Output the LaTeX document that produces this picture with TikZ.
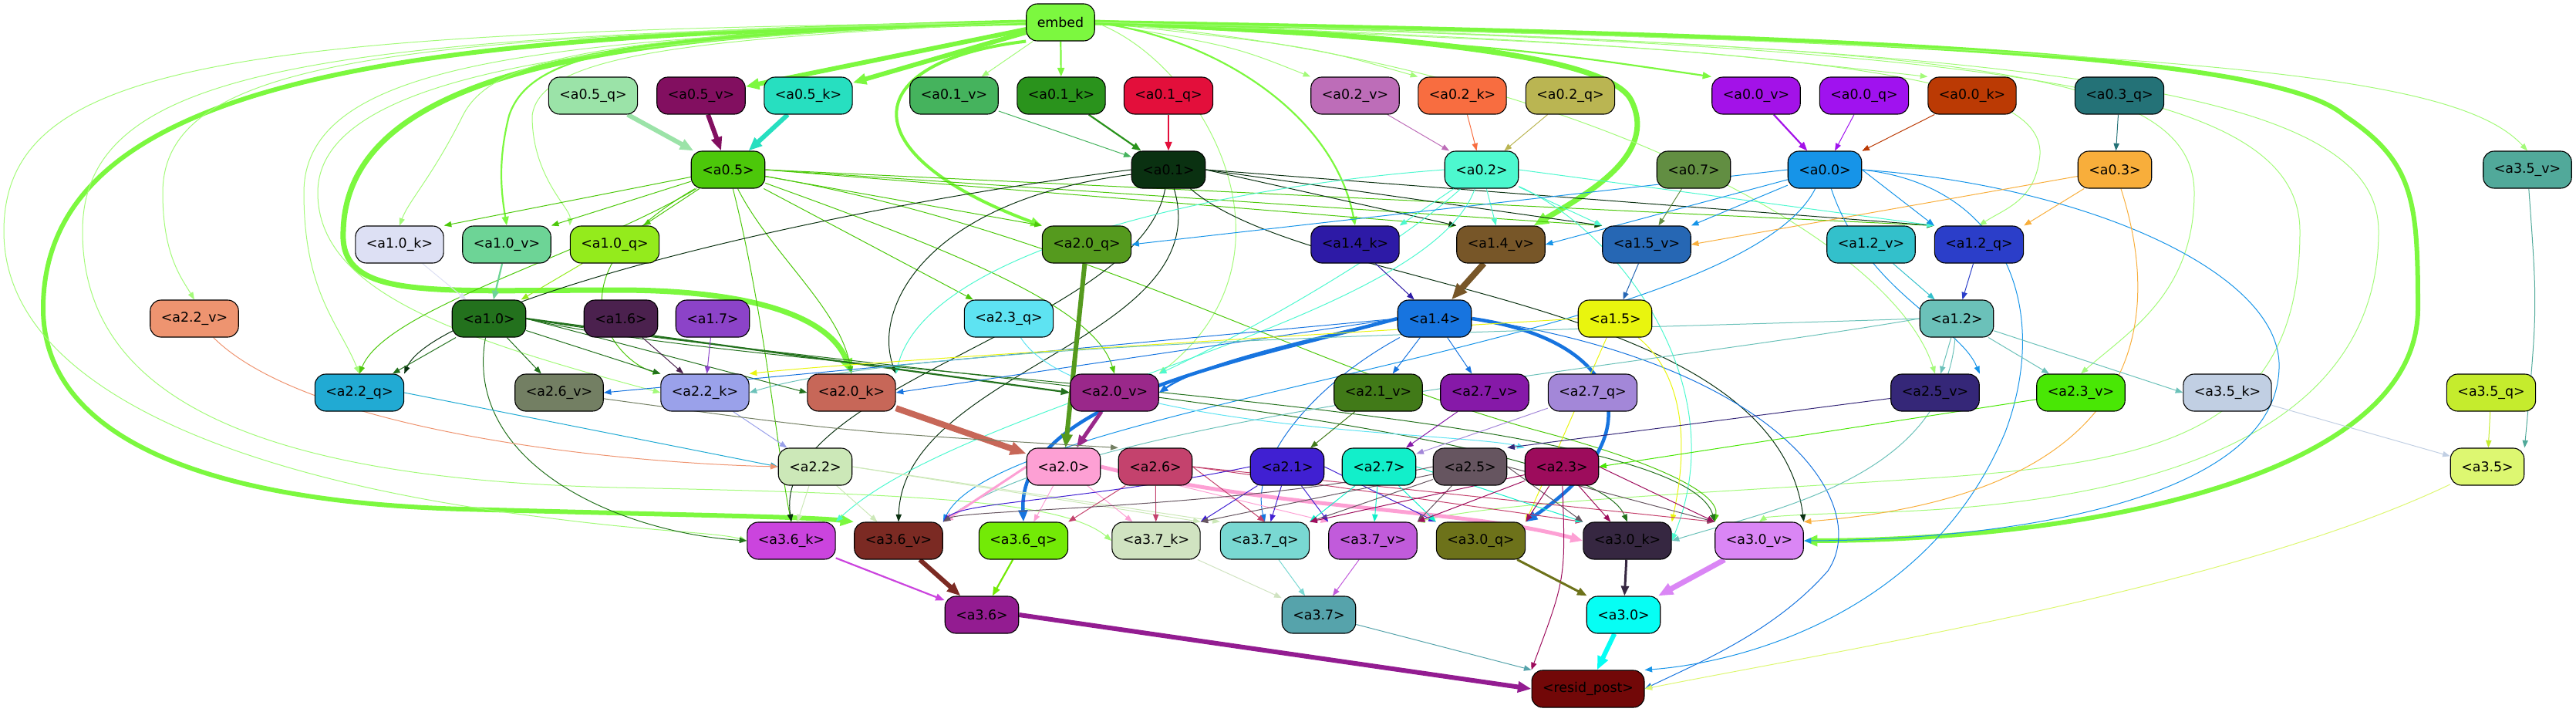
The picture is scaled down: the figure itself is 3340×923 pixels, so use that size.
\documentclass[tikz,border=0pt]{standalone}
\usepackage{fontspec}
\setmainfont{DejaVu Sans}
\usetikzlibrary{arrows.meta,backgrounds}

% Colores de los nodos
\definecolor{cEmb}{HTML}{7CF83F}
\definecolor{cA05q}{HTML}{9BE3A8}
\definecolor{cA05v}{HTML}{820F60}
\definecolor{cA05k}{HTML}{27DFC0}
\definecolor{cA01v}{HTML}{45B35D}
\definecolor{cA01k}{HTML}{2A931C}
\definecolor{cA01q}{HTML}{E30F3B}
\definecolor{cA02v}{HTML}{BD6DB8}
\definecolor{cA02k}{HTML}{F86D40}
\definecolor{cA02q}{HTML}{BAB552}
\definecolor{cA00v}{HTML}{A312E8}
\definecolor{cA00q}{HTML}{A012EF}
\definecolor{cA00k}{HTML}{BB3A04}
\definecolor{cA03q}{HTML}{247277}
\definecolor{cA05}{HTML}{4CC80A}
\definecolor{cA01}{HTML}{0A3111}
\definecolor{cA02}{HTML}{4DF8CF}
\definecolor{cA07}{HTML}{628E42}
\definecolor{cA00}{HTML}{1694E8}
\definecolor{cA03}{HTML}{F8AE3B}
\definecolor{cA35v}{HTML}{51A99A}
\definecolor{cA10k}{HTML}{DDE0F4}
\definecolor{cA10v}{HTML}{6DD496}
\definecolor{cA10q}{HTML}{94EB1C}
\definecolor{cA20q}{HTML}{559A1E}
\definecolor{cA14k}{HTML}{2D1AA6}
\definecolor{cA14v}{HTML}{775628}
\definecolor{cA15v}{HTML}{2667B4}
\definecolor{cA12v}{HTML}{33C0CB}
\definecolor{cA12q}{HTML}{2B3EC9}
\definecolor{cA22v}{HTML}{EE9470}
\definecolor{cA10}{HTML}{23711D}
\definecolor{cA16}{HTML}{4B214E}
\definecolor{cA17}{HTML}{8C43C8}
\definecolor{cA23q}{HTML}{5EE3F2}
\definecolor{cA14}{HTML}{1774DF}
\definecolor{cA15}{HTML}{E9F50E}
\definecolor{cA12}{HTML}{6BC1B9}
\definecolor{cA22q}{HTML}{21AAD3}
\definecolor{cA26v}{HTML}{737F63}
\definecolor{cA22k}{HTML}{9AA1EA}
\definecolor{cA20k}{HTML}{C76758}
\definecolor{cA20v}{HTML}{9A288A}
\definecolor{cA21v}{HTML}{417A18}
\definecolor{cA27v}{HTML}{8619A8}
\definecolor{cA27q}{HTML}{A387D8}
\definecolor{cA25v}{HTML}{352778}
\definecolor{cA23v}{HTML}{49E705}
\definecolor{cA35k}{HTML}{C1CFE3}
\definecolor{cA35q}{HTML}{C5EC2D}
\definecolor{cA22}{HTML}{CCE8B8}
\definecolor{cA20}{HTML}{FDA0D4}
\definecolor{cA26}{HTML}{C4426D}
\definecolor{cA21}{HTML}{4020D2}
\definecolor{cA27}{HTML}{12EFCA}
\definecolor{cA25}{HTML}{665560}
\definecolor{cA23}{HTML}{9D0C5C}
\definecolor{cA35}{HTML}{DDF771}
\definecolor{cA36k}{HTML}{CB44DE}
\definecolor{cA36v}{HTML}{7B2A23}
\definecolor{cA36q}{HTML}{73EA06}
\definecolor{cA37k}{HTML}{D0E3C1}
\definecolor{cA37q}{HTML}{79D8D2}
\definecolor{cA37v}{HTML}{C15BDB}
\definecolor{cA30q}{HTML}{6D721A}
\definecolor{cA30k}{HTML}{362741}
\definecolor{cA30v}{HTML}{DA86F5}
\definecolor{cA36}{HTML}{931C91}
\definecolor{cA37}{HTML}{56A3AB}
\definecolor{cA30}{HTML}{06FEF4}
\definecolor{cResid}{HTML}{720808}

\newcommand{\nodefont}{\fontsize{17.4}{20}\selectfont}

\begin{document}
\begin{tikzpicture}[x=1pt, y=-1pt, >={Triangle[length=8pt 1.6, width=6pt 1.3]},
    nd/.style={draw=black, line width=1.1pt, rounded corners=14pt, minimum height=48pt,
      inner xsep=14pt, inner ysep=0pt, font=\nodefont, text=black},
    edg/.style={->, line width=1pt},
    edgm/.style={->, line width=2.2pt},
    edgt/.style={->, line width=6pt}]
  \useasboundingbox (0,0) rectangle (3340,923);

  % Entrada
  \node[nd, fill=cEmb] (embed) at (1375,29) {embed};

  % Capa 0: q, k, v
  \node[nd, fill=cA05q] (a05q) at (769,124) {<a0.5\_q>};
  \node[nd, fill=cA05v] (a05v) at (909,124) {<a0.5\_v>};
  \node[nd, fill=cA05k] (a05k) at (1048,124) {<a0.5\_k>};
  \node[nd, fill=cA01v] (a01v) at (1237,124) {<a0.1\_v>};
  \node[nd, fill=cA01k] (a01k) at (1376,124) {<a0.1\_k>};
  \node[nd, fill=cA01q] (a01q) at (1515,124) {<a0.1\_q>};
  \node[nd, fill=cA02v] (a02v) at (1757,124) {<a0.2\_v>};
  \node[nd, fill=cA02k] (a02k) at (1896,124) {<a0.2\_k>};
  \node[nd, fill=cA02q] (a02q) at (2036,124) {<a0.2\_q>};
  \node[nd, fill=cA00v] (a00v) at (2277,124) {<a0.0\_v>};
  \node[nd, fill=cA00q] (a00q) at (2417,124) {<a0.0\_q>};
  \node[nd, fill=cA00k] (a00k) at (2557,124) {<a0.0\_k>};
  \node[nd, fill=cA03q] (a03q) at (2748,124) {<a0.3\_q>};

  % Capa 0: cabezas
  \node[nd, fill=cA05] (a05) at (944,220) {<a0.5>};
  \node[nd, fill=cA01] (a01) at (1515,220) {<a0.1>};
  \node[nd, fill=cA02] (a02) at (1921,220) {<a0.2>};
  \node[nd, fill=cA07] (a07) at (2196,220) {<a0.7>};
  \node[nd, fill=cA00] (a00) at (2366,220) {<a0.0>};
  \node[nd, fill=cA03] (a03) at (2742,220) {<a0.3>};
  \node[nd, fill=cA35v] (a35v) at (3277,220) {<a3.5\_v>};

  % Capa 1
  \node[nd, fill=cA10k] (a10k) at (518,317) {<a1.0\_k>};
  \node[nd, fill=cA10v] (a10v) at (657,317) {<a1.0\_v>};
  \node[nd, fill=cA10q] (a10q) at (797,317) {<a1.0\_q>};
  \node[nd, fill=cA20q] (a20q) at (1409,317) {<a2.0\_q>};
  \node[nd, fill=cA14k] (a14k) at (1757,317) {<a1.4\_k>};
  \node[nd, fill=cA14v] (a14v) at (1946,317) {<a1.4\_v>};
  \node[nd, fill=cA15v] (a15v) at (2135,317) {<a1.5\_v>};
  \node[nd, fill=cA12v] (a12v) at (2426,317) {<a1.2\_v>};
  \node[nd, fill=cA12q] (a12q) at (2566,317) {<a1.2\_q>};

  \node[nd, fill=cA22v] (a22v) at (252,413) {<a2.2\_v>};
  \node[nd, fill=cA10] (a10) at (634,413) {<a1.0>};
  \node[nd, fill=cA16] (a16) at (805,413) {<a1.6>};
  \node[nd, fill=cA17] (a17) at (924,413) {<a1.7>};
  \node[nd, fill=cA23q] (a23q) at (1308,413) {<a2.3\_q>};
  \node[nd, fill=cA14] (a14) at (1860,413) {<a1.4>};
  \node[nd, fill=cA15] (a15) at (2094,413) {<a1.5>};
  \node[nd, fill=cA12] (a12) at (2537,413) {<a1.2>};

  % Capa 2
  \node[nd, fill=cA22q] (a22q) at (466,509) {<a2.2\_q>};
  \node[nd, fill=cA26v] (a26v) at (725,509) {<a2.6\_v>};
  \node[nd, fill=cA22k] (a22k) at (914,509) {<a2.2\_k>};
  \node[nd, fill=cA20k] (a20k) at (1104,509) {<a2.0\_k>};
  \node[nd, fill=cA20v] (a20v) at (1445,509) {<a2.0\_v>};
  \node[nd, fill=cA21v] (a21v) at (1787,509) {<a2.1\_v>};
  \node[nd, fill=cA27v] (a27v) at (1925,509) {<a2.7\_v>};
  \node[nd, fill=cA27q] (a27q) at (2065,509) {<a2.7\_q>};
  \node[nd, fill=cA25v] (a25v) at (2509,509) {<a2.5\_v>};
  \node[nd, fill=cA23v] (a23v) at (2698,509) {<a2.3\_v>};
  \node[nd, fill=cA35k] (a35k) at (2888,509) {<a3.5\_k>};
  \node[nd, fill=cA35q] (a35q) at (3230,509) {<a3.5\_q>};

  \node[nd, fill=cA22] (a22) at (1057,605) {<a2.2>};
  \node[nd, fill=cA20] (a20) at (1379,605) {<a2.0>};
  \node[nd, fill=cA26] (a26) at (1498,605) {<a2.6>};
  \node[nd, fill=cA21] (a21) at (1669,605) {<a2.1>};
  \node[nd, fill=cA27] (a27) at (1788,605) {<a2.7>};
  \node[nd, fill=cA25] (a25) at (1906,605) {<a2.5>};
  \node[nd, fill=cA23] (a23) at (2025,605) {<a2.3>};
  \node[nd, fill=cA35] (a35) at (3225,605) {<a3.5>};

  % Capa 3
  \node[nd, fill=cA36k] (a36k) at (1026,701) {<a3.6\_k>};
  \node[nd, fill=cA36v] (a36v) at (1165,701) {<a3.6\_v>};
  \node[nd, fill=cA36q] (a36q) at (1327,701) {<a3.6\_q>};
  \node[nd, fill=cA37k] (a37k) at (1499,701) {<a3.7\_k>};
  \node[nd, fill=cA37q] (a37q) at (1640,701) {<a3.7\_q>};
  \node[nd, fill=cA37v] (a37v) at (1780,701) {<a3.7\_v>};
  \node[nd, fill=cA30q] (a30q) at (1920,701) {<a3.0\_q>};
  \node[nd, fill=cA30k] (a30k) at (2110,701) {<a3.0\_k>};
  \node[nd, fill=cA30v] (a30v) at (2281,701) {<a3.0\_v>};

  \node[nd, fill=cA36] (a36) at (1273,797) {<a3.6>};
  \node[nd, fill=cA37] (a37) at (1710,797) {<a3.7>};
  \node[nd, fill=cA30] (a30) at (2105,797) {<a3.0>};

  % Salida
  \node[nd, fill=cResid] (resid) at (2059,893) {<resid\_post>};

  \begin{pgfonlayer}{background}
    % Conexiones desde embed
    \draw[edgt, cEmb] (embed) -- (a05v);
    \draw[edgt, cEmb] (embed) -- (a05k);
    \draw[edg, cEmb!70] (embed) -- (a01v);
    \draw[edgm, cEmb] (embed) -- (a01k);
    \draw[edg, cEmb!70] (embed.east) .. controls (1600,60) .. (a02v.north west);
    \draw[edg, cEmb!70] (embed.east) .. controls (1700,60) .. (a02k.north west);
    \draw[edgm, cEmb] (embed.east) .. controls (1950,60) .. (a00v.north west);
    \draw[edg, cEmb!70] (embed.east) .. controls (2150,60) .. (a00k.north west);
    \draw[->, line width=7pt, cEmb] (embed.east) .. controls (1700,40) and (2080,60) .. (2115,130)
      .. controls (2150,200) and (2060,250) .. (a14v.30);
    \draw[edgm, cEmb] (embed.east) .. controls (1580,50) and (1730,150) .. (a14k.north);
    \draw[->, line width=4pt, cEmb] (embed.south west) .. controls (1110,80) and (1100,200) .. (a20q.north west);
    \draw[edg, cEmb!70] (embed.east) .. controls (1560,80) and (1700,330) .. (a20v.north east);
    \draw[edg, cEmb!70] (embed.east) .. controls (2000,70) and (2450,300) .. (a25v.north);
    \draw[edg, cEmb!70] (embed.east) .. controls (2300,60) and (2650,90) .. (2645,200)
      .. controls (2640,260) and (2600,270) .. (a12q.north);
    \draw[edg, cEmb!70] (embed.east) .. controls (2500,60) and (2845,80) .. (2845,250)
      .. controls (2845,380) and (2760,430) .. (a23v.north);
    \draw[edg, cEmb!70] (embed.east) .. controls (2600,60) and (2982,110) .. (2982,300)
      .. controls (2982,560) and (2800,600) .. (2500,620) .. controls (2200,640) and (1950,650) .. (a37v.north east);
    \draw[edg, cEmb!70] (embed.east) .. controls (2700,60) and (3084,120) .. (3084,300)
      .. controls (3084,600) and (2700,660) .. (2400,665) .. controls (2330,667) and (2290,670) .. (a30v.north);
    \draw[->, line width=6pt, cEmb] (embed.east) .. controls (2400,45) and (2950,70) .. (3040,150)
      .. controls (3130,210) and (3135,260) .. (3135,400) .. controls (3135,620) and (2700,700) .. (a30v.east);
    \draw[edg, cEmb!70] (embed.east) .. controls (2800,60) and (3180,90) .. (a35v.north);
    \draw[->, line width=7pt, cEmb] (embed.west) .. controls (800,40) and (450,90) .. (445,300)
      .. controls (440,390) and (560,376) .. (800,376) .. controls (1000,376) and (1080,420) .. (a20k.north);
    \draw[->, line width=6pt, cEmb] (embed.west) .. controls (600,45) and (56,80) .. (56,400)
      .. controls (56,560) and (250,650) .. (600,660) .. controls (900,668) and (1050,670) .. (a36v.north west);
    \draw[edg, cEmb!70] (embed.west) .. controls (300,40) and (5,80) .. (5,300)
      .. controls (5,500) and (300,620) .. (700,670) .. controls (850,690) and (930,690) .. (a36k.west);
    \draw[edg, cEmb!70] (embed.west) .. controls (400,45) and (107,90) .. (107,300)
      .. controls (107,500) and (300,620) .. (800,632) .. controls (1200,640) and (1380,650) .. (a37k.west);
    \draw[edg, cEmb!70] (embed.west) .. controls (500,45) and (211,80) .. (211,250)
      .. controls (211,330) and (235,360) .. (a22v.north);
    \draw[edg, cEmb!70] (embed.west) .. controls (700,50) and (394,80) .. (394,250)
      .. controls (394,380) and (440,420) .. (a22q.north);
    \draw[edg, cEmb!70] (embed.west) .. controls (750,50) and (412,100) .. (412,250)
      .. controls (412,380) and (600,440) .. (a22k.west);
    \draw[edg, cEmb!70] (embed.west) .. controls (800,45) and (640,70) .. (600,150)
      .. controls (560,230) and (530,260) .. (a10k.north);
    \draw[edgm, cEmb] (embed.west) .. controls (850,45) and (690,60) .. (660,150)
      .. controls (645,210) and (650,250) .. (a10v.north);
    \draw[edg, cEmb!70] (embed.west) .. controls (900,50) and (700,70) .. (690,150)
      .. controls (690,230) and (740,270) .. (a10q.north west);

    % Capa 0
    \draw[edgt, cA05q] (a05q) -- (a05);
    \draw[edgt, cA05v] (a05v) -- (a05);
    \draw[edgt, cA05k] (a05k) -- (a05);
    \draw[edg, cA01v] (a01v) -- (a01);
    \draw[edgm, cA01k] (a01k) -- (a01);
    \draw[edgm, cA01q] (a01q) -- (a01);
    \draw[edg, cA02v] (a02v) -- (a02);
    \draw[edg, cA02k] (a02k) -- (a02);
    \draw[edg, cA02q] (a02q) -- (a02);
    \draw[edgm, cA00v] (a00v) -- (a00);
    \draw[edg, cA00q] (a00q) -- (a00);
    \draw[edg, cA00k] (a00k) -- (a00);
    \draw[edg, cA03q] (a03q) -- (a03);

    \draw[edg, cA05] (a05) -- (a10k.north east);
    \draw[edg, cA05] (a05) -- (a10v.north east);
    \draw[edg, cA05] (a05) -- (a10q);
    \draw[edg, cA05] (a05) -- (a20q.north west);
    \draw[edg, cA05] (a05) -- (a23q);
    \draw[edg, cA05] (a05.east) -- (a14v.north west);
    \draw[edg, cA05] (a05.east) -- (a15v.north west);
    \draw[edg, cA05] (a05.east) -- (a12q.north west);
    \draw[edg, cA05] (a05) .. controls (760,330) and (500,400) .. (a22q.north);
    \draw[edg, cA05] (a05) .. controls (700,360) and (800,470) .. (a22k.north west);
    \draw[edg, cA05] (a05) .. controls (1000,330) and (1090,400) .. (a20k.north);
    \draw[edg, cA05] (a05) .. controls (1250,330) and (1420,400) .. (a20v.north);
    \draw[edg, cA05] (a05) .. controls (990,400) and (1010,600) .. (a36k.north);
    \draw[edg, cA05] (a05) .. controls (1400,300) and (1700,480) .. (2000,560)
      .. controls (2150,600) and (2230,640) .. (a30v.north west);

    \draw[edg, cA01] (a01.east) -- (a14v.north west);
    \draw[edg, cA01] (a01.east) -- (a15v.north west);
    \draw[edg, cA01] (a01.east) -- (a12q.north west);
    \draw[edg, cA01] (a01.west) .. controls (1000,280) and (560,400) .. (a22q.north east);
    \draw[edg, cA01] (a01) .. controls (1200,260) and (1130,400) .. (a20k.north east);
    \draw[edg, cA01] (a01) .. controls (1480,420) and (1000,500) .. (a36k.north);
    \draw[edg, cA01] (a01) .. controls (1580,440) and (1170,480) .. (a36v.north);
    \draw[edg, cA01] (a01) .. controls (1700,380) and (2300,380) .. (a30v.north east);

    \draw[edg, cA02] (a02) -- (a14k.north east);
    \draw[edg, cA02] (a02) -- (a14v);
    \draw[edg, cA02] (a02) -- (a15v.north west);
    \draw[edg, cA02] (a02.east) -- (a12q.north west);
    \draw[edg, cA02] (a02.west) .. controls (1600,240) and (1200,320) .. (a20k.north east);
    \draw[edg, cA02] (a02) .. controls (1800,330) and (1600,440) .. (a20v.north east);
    \draw[edg, cA02] (a02) .. controls (1850,420) and (1250,520) .. (a36k.north east);
    \draw[edg, cA02] (a02) .. controls (2100,300) and (2250,500) .. (a30k.east);

    \draw[edg, cA00] (a00) -- (a14v.east);
    \draw[edg, cA00] (a00) -- (a15v.north east);
    \draw[edg, cA00] (a00.east) -- (a12q.north west);
    \draw[edg, cA00] (a00.west) -- (a20q.east);
    \draw[edg, cA00] (a00) .. controls (2420,380) and (2540,420) .. (a25v.north east);
    \draw[edg, cA00] (a00) .. controls (2250,450) and (1300,520) .. (a36v.north east);
    \draw[edg, cA00] (a00.east) .. controls (2700,240) and (2950,350) .. (2955,470)
      .. controls (2960,650) and (2600,700) .. (a30v.east);
    \draw[edg, cA00] (a00.east) .. controls (2600,240) and (2660,400) .. (2600,560)
      .. controls (2500,800) and (2250,860) .. (resid.north east);
    \draw[edg, cA03] (a03) -- (a15v.east);
    \draw[edg, cA03] (a03) -- (a12q.north east);
    \draw[edg, cA03] (a03) .. controls (2800,400) and (2800,640) .. (a30v.north east);
    \draw[edg, cA07] (a07) -- (a15v);

    % Capa 1
    \draw[edg, cA10k] (a10k) -- (a10);
    \draw[edgm, cA10v] (a10v) -- (a10);
    \draw[edg, cA10q] (a10q) -- (a10);
    \draw[edg, cA14k] (a14k) -- (a14);
    \draw[->, line width=8pt, cA14v] (a14v) -- (a14);
    \draw[edg, cA15v] (a15v) -- (a15);
    \draw[edg, cA12v] (a12v) -- (a12);
    \draw[edg, cA12q] (a12q) -- (a12);

    \draw[edg, cA10] (a10) -- (a22q);
    \draw[edg, cA10] (a10) -- (a26v);
    \draw[edg, cA10] (a10) -- (a22k.north west);
    \draw[edg, cA10] (a10.east) -- (a20k.west);
    \draw[edgm, cA10] (a10.east) -- (a20v.west);
    \draw[edg, cA10] (a10) .. controls (600,600) and (800,690) .. (a36k.west);
    \draw[edg, cA10] (a10.east) .. controls (1000,470) and (2050,540) .. (a30k.north);
    \draw[edg, cA10] (a10.east) .. controls (1000,490) and (2180,520) .. (a30v.north west);
    \draw[edg, cA16] (a16) -- (a22k);
    \draw[edg, cA17] (a17) -- (a22k);

    \draw[edg, cA14] (a14) -- (a21v);
    \draw[edg, cA14] (a14) -- (a27v);
    \draw[edg, cA14] (a14.west) -- (a26v.east);
    \draw[edg, cA14] (a14.west) -- (a20k.east);
    \draw[edgm, cA14] (a14.west) .. controls (1700,440) and (1560,470) .. (a20v.east);
    \draw[->, line width=4.5pt, cA14] (a14.west) .. controls (1600,470) and (1320,520) .. (a36q.north);
    \draw[->, line width=4.5pt, cA14] (a14.east) .. controls (2100,440) and (2150,560) .. (a30q.north east);
    \draw[edg, cA14] (a14) .. controls (1700,500) and (1620,600) .. (a37q.north);
    \draw[edg, cA14] (a14.east) .. controls (2300,470) and (2430,650) .. (2370,740)
      .. controls (2300,820) and (2200,860) .. (resid.east);
    \draw[edg, cA15] (a15) -- (a30q.north east);
    \draw[edg, cA15] (a15) .. controls (2200,500) and (2180,620) .. (a30k.north east);
    \draw[edg, cA15] (a15.west) .. controls (1600,440) and (1100,470) .. (a22k.north east);

    \draw[edg, cA12] (a12) -- (a25v);
    \draw[edg, cA12] (a12) -- (a23v);
    \draw[edg, cA12] (a12) -- (a35k.west);
    \draw[edg, cA12] (a12.west) .. controls (2000,430) and (1200,440) .. (a22k.east);
    \draw[edg, cA12] (a12.west) .. controls (2100,480) and (1400,540) .. (a36v.north east);
    \draw[edg, cA12] (a12) .. controls (2520,620) and (2300,660) .. (a30k.east);
    \draw[edg, cA23q] (a23q) .. controls (1400,560) and (1900,560) .. (a23.north west);

    % Capa 2
    \draw[edg, cA22q] (a22q.east) -- (a22.west);
    \draw[edg, cA22k] (a22k) -- (a22);
    \draw[edg, cA22v] (a22v) .. controls (400,560) and (800,600) .. (a22.west);
    \draw[->, line width=8pt, cA20k] (a20k) -- (a20);
    \draw[edgt, cA20q] (a20q) -- (a20);
    \draw[->, line width=5pt, cA20v] (a20v) -- (a20);
    \draw[edg, cA26v] (a26v) .. controls (1100,560) .. (a26.north west);
    \draw[edg, cA21v] (a21v) -- (a21);
    \draw[edg, cA27v] (a27v) -- (a27);
    \draw[edg, cA27q] (a27q) -- (a27);
    \draw[edg, cA25v] (a25v) -- (a25.north east);
    \draw[edg, cA23v] (a23v) -- (a23.east);
    \draw[edg, cA35k] (a35k) -- (a35);
    \draw[edg, cA35q] (a35q) -- (a35);
    \draw[edg, cA35v] (a35v) .. controls (3290,400) .. (a35.north east);

    \draw[edg, cA22] (a22) -- (a36k);
    \draw[edg, cA22] (a22) -- (a36v);
    \draw[edg, cA22] (a22.east) -- (a37k.north east);
    \draw[edg, cA22] (a22.east) -- (a37q.north west);
    \draw[->, line width=3pt, cA20] (a20.west) -- (a36v.north east);
    \draw[edg, cA20] (a20) -- (a36q);
    \draw[edg, cA20] (a20) -- (a37k);
    \draw[->, line width=5pt, cA20] (a20.east) .. controls (1650,660) and (1900,660) .. (a30k.west);
    \draw[edg, cA20] (a20.east) -- (a37v.north west);
    \draw[edg, cA26] (a26) -- (a36q.north east);
    \draw[edg, cA26] (a26) -- (a37k);
    \draw[edg, cA26] (a26.east) -- (a37q.north);
    \draw[edg, cA26] (a26.east) -- (a30k.north west);
    \draw[edg, cA26] (a26.east) -- (a30v.north west);
    \draw[edg, cA21] (a21.west) .. controls (1400,650) and (1250,650) .. (a36v.north east);
    \draw[edg, cA21] (a21) -- (a37k.north east);
    \draw[edg, cA21] (a21) -- (a37q);
    \draw[edg, cA21] (a21) -- (a37v.north west);
    \draw[edg, cA21] (a21.east) -- (a30q.north west);
    \draw[edg, cA27] (a27) -- (a37q.north east);
    \draw[edg, cA27] (a27) -- (a37v);
    \draw[edg, cA27] (a27) -- (a30q.north west);
    \draw[edg, cA27] (a27.east) -- (a30k.north west);
    \draw[edg, cA25] (a25.west) .. controls (1600,660) and (1250,660) .. (a36v.north east);
    \draw[edg, cA25] (a25) -- (a37k.north east);
    \draw[edg, cA25] (a25) -- (a37q.north east);
    \draw[edg, cA25] (a25) -- (a37v.north east);
    \draw[edg, cA25] (a25.east) -- (a30k.north west);
    \draw[edg, cA25] (a25.east) -- (a30v.north west);
    \draw[edg, cA23] (a23) -- (a37q.north east);
    \draw[edg, cA23] (a23) -- (a37v.north east);
    \draw[edg, cA23] (a23) -- (a30q.north east);
    \draw[edg, cA23] (a23) -- (a30k);
    \draw[edg, cA23] (a23.east) -- (a30v.north west);
    \draw[edg, cA23] (a23) .. controls (2030,750) .. (resid.north west);

    % Capa 3
    \draw[edgm, cA36k] (a36k) -- (a36);
    \draw[edgt, cA36v] (a36v) -- (a36);
    \draw[edgm, cA36q] (a36q) -- (a36);
    \draw[edg, cA37k] (a37k) -- (a37);
    \draw[edg, cA37q] (a37q) -- (a37);
    \draw[edg, cA37v] (a37v) -- (a37);
    \draw[->, line width=3pt, cA30q] (a30q) -- (a30);
    \draw[->, line width=3pt, cA30k] (a30k) -- (a30);
    \draw[->, line width=7pt, cA30v] (a30v) -- (a30);

    % Salida
    \draw[edgt, cA36] (a36.east) -- (resid.west);
    \draw[edg, cA37] (a37) -- (resid.north west);
    \draw[edgt, cA30] (a30) -- (resid);
    \draw[edg, cA35] (a35) .. controls (2900,760) and (2400,840) .. (resid.east);
  \end{pgfonlayer}
\end{tikzpicture}
\end{document}
